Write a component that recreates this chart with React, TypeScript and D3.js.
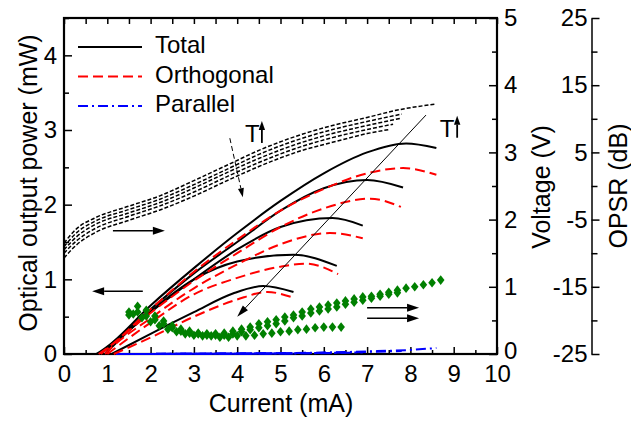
import React, { useEffect, useRef } from "react";
import * as d3 from "d3";

// axis ticks
const currentTicks = [0, 1, 2, 3, 4, 5, 6, 7, 8, 9, 10];
const powerTicks = [0, 1, 2, 3, 4];
const voltageTicks = [0, 1, 2, 3, 4, 5];
const opsrTicks = [-25, -15, -5, 5, 15, 25];

// L-I curves, one per temperature (mA, mW)
const totalI = [
  [0.75, 1, 2, 3, 4, 5, 6, 7, 7.9, 8.6],
  [0.8, 1, 2, 3, 4, 5, 6, 7, 7.83],
  [0.85, 1, 2, 3, 4, 5, 6.2, 6.9],
  [0.95, 1, 2, 3, 4, 5.3, 6.3],
  [1.1, 2, 3, 3.9, 4.6, 5.3],
];
const totalP = [
  [0, 0.1, 0.65, 1.15, 1.62, 2.05, 2.42, 2.7, 2.82, 2.76],
  [0, 0.09, 0.6, 1.08, 1.5, 1.92, 2.22, 2.33, 2.23],
  [0, 0.07, 0.56, 1.0, 1.4, 1.7, 1.82, 1.72],
  [0, 0.03, 0.57, 1.0, 1.24, 1.33, 1.18],
  [0, 0.27, 0.56, 0.81, 0.91, 0.83],
];

const orthoI = [
  [0.8, 1, 2, 3, 4, 5, 6, 7, 7.83, 8.6],
  [0.85, 1, 2, 3, 4, 5, 6, 7.07, 7.78],
  [0.95, 1, 2, 3, 4, 5, 6.14, 6.9],
  [1.0, 2, 3, 4, 5, 5.6, 6.33],
  [1.15, 2, 3, 4, 4.7, 5.27],
];
const orthoP = [
  [0, 0.08, 0.6, 1.1, 1.53, 1.92, 2.21, 2.42, 2.49, 2.4],
  [0, 0.07, 0.55, 0.98, 1.35, 1.7, 1.95, 2.08, 1.97],
  [0, 0.03, 0.48, 0.88, 1.2, 1.47, 1.62, 1.55],
  [0, 0.42, 0.8, 1.02, 1.17, 1.21, 1.07],
  [0, 0.22, 0.5, 0.73, 0.83, 0.76],
];

const paraI = [
  [1.2, 3, 5, 6, 7, 8, 8.6],
  [1.2, 3, 5, 6, 7, 7.8],
  [1.3, 3, 5, 6.9],
  [1.3, 3, 5, 6.3],
  [1.4, 3, 5.3],
];
const paraP = [
  [0, 0.004, 0.012, 0.02, 0.035, 0.055, 0.08],
  [0, 0.004, 0.01, 0.016, 0.028, 0.04],
  [0, 0.003, 0.008, 0.02],
  [0, 0.003, 0.007, 0.012],
  [0, 0.002, 0.006],
];

// I-V curves (mA, V)
const voltI = [
  [0, 0.3, 0.7, 1.5, 2.2, 3, 3.8, 4.5, 5.5, 6.2, 7, 7.7, 8.6],
  [0, 0.3, 0.7, 1.5, 2.2, 3, 3.8, 4.5, 5.5, 6.2, 7, 7.8],
  [0, 0.3, 0.7, 1.5, 2.2, 3, 3.8, 4.5, 5.5, 6.2, 7, 7.8],
  [0, 0.3, 0.7, 1.5, 2.2, 3, 3.8, 4.5, 5.5, 6.2, 7, 7.6],
  [0, 0.3, 0.7, 1.5, 2.2, 3, 3.8, 4.5, 5.5, 6.2, 7, 7.5],
];
const voltV = [
  [1.65, 1.87, 2.02, 2.2, 2.35, 2.58, 2.82, 3.03, 3.27, 3.4, 3.52, 3.63, 3.72],
  [1.6, 1.81, 1.97, 2.15, 2.3, 2.52, 2.76, 2.97, 3.21, 3.34, 3.46, 3.57],
  [1.55, 1.75, 1.92, 2.1, 2.25, 2.47, 2.71, 2.91, 3.15, 3.28, 3.4, 3.51],
  [1.5, 1.69, 1.86, 2.05, 2.2, 2.41, 2.65, 2.85, 3.09, 3.22, 3.34, 3.42],
  [1.43, 1.63, 1.8, 1.99, 2.14, 2.35, 2.59, 2.79, 3.03, 3.15, 3.28, 3.34],
];

// OPSR points (mA, dB)
const opsrI = [
  [1.5, 1.7, 1.9, 2.1, 2.3, 2.5, 2.7, 2.9, 3.1, 3.3, 3.5, 3.7, 3.9, 4.1, 4.3, 4.5, 4.7, 4.9, 5.1, 5.3, 5.5, 5.7, 5.9, 6.1, 6.3, 6.5, 6.7, 6.9, 7.1, 7.3, 7.5, 7.7, 7.9, 8.1, 8.3, 8.5, 8.7],
  [1.5, 1.7, 1.9, 2.1, 2.3, 2.5, 2.7, 2.9, 3.1, 3.3, 3.5, 3.7, 3.9, 4.1, 4.3, 4.5, 4.7, 4.9, 5.1, 5.3, 5.5, 5.7, 5.9, 6.1, 6.3, 6.5, 6.7, 6.9, 7.1, 7.3, 7.5, 7.7],
  [1.6, 1.8, 2.0, 2.2, 2.4, 2.6, 2.8, 3.0, 3.2, 3.4, 3.6, 3.8, 4.0, 4.2, 4.4, 4.6, 4.8, 5.0, 5.2, 5.4, 5.6, 5.8, 6.0, 6.2, 6.4],
];
const opsrDb = [
  [-18.75, -17.9, -18.5, -19.35, -20.1, -20.8, -21.3, -21.6, -21.9, -22.0, -22.0, -21.9, -21.6, -21.3, -21.0, -20.5, -20.2, -19.9, -19.5, -19.2, -18.75, -18.3, -18.0, -17.7, -17.4, -17.1, -16.8, -16.5, -16.4, -16.1, -15.8, -15.5, -15.2, -15.0, -14.7, -14.4, -14.0],
  [-19.2, -18.75, -19.35, -19.9, -20.5, -21.1, -21.6, -21.9, -22.0, -22.2, -22.2, -22.2, -22.0, -21.7, -21.4, -21.1, -20.8, -20.5, -20.1, -19.6, -19.35, -18.9, -18.6, -18.3, -18.0, -17.6, -17.3, -17.0, -16.7, -16.4, -16.1, -15.9],
  [-19.05, -19.6, -20.2, -20.8, -21.3, -21.7, -22.0, -22.2, -22.3, -22.3, -22.5, -22.5, -22.3, -22.3, -22.2, -22.0, -21.9, -21.7, -21.6, -21.4, -21.3, -21.1, -21.0, -21.0, -21.0],
];

const legendLabels = ["Total", "Orthogonal", "Parallel"];

const W = 631;
const H = 421;
const FONT = "'Liberation Sans', Arial, sans-serif";

const App = () => {
  const ref = useRef<SVGSVGElement>(null);

  useEffect(() => {
    const svg = d3.select(ref.current);
    svg.selectAll("*").remove();

    const left = 64, right = 497, top = 18, bottom = 354, opsrX = 591.5;

    const x = d3.scaleLinear().domain([0, 10]).range([left, right]);
    const yP = d3.scaleLinear().domain([0, 4.5]).range([bottom, top]);
    const yV = d3.scaleLinear().domain([0, 5]).range([bottom, top]);
    const yO = d3.scaleLinear().domain([-25, 25]).range([bottom, top]);

    const halves = (ticks: number[]) => ticks.slice(0, -1).map((t, i) => (t + ticks[i + 1]) / 2);
    const fmt = (d: any) => String(d);
    const none = () => "";

    const styleAxis = (g: any) => {
      g.attr("font-size", 24).attr("font-family", FONT);
      g.selectAll("line").attr("stroke-width", 1.5);
      g.selectAll("text").attr("fill", "black");
    };

    // bottom
    svg.append("g").attr("transform", `translate(0,${bottom})`)
      .call(d3.axisBottom(x).tickValues(halves(currentTicks)).tickFormat(none).tickSize(-4))
      .call(styleAxis).select(".domain").remove();
    svg.append("g").attr("transform", `translate(0,${bottom})`)
      .call(d3.axisBottom(x).tickValues(currentTicks).tickFormat(fmt).tickSize(-7).tickPadding(11))
      .call(styleAxis).select(".domain").remove();
    // top
    svg.append("g").attr("transform", `translate(0,${top})`)
      .call(d3.axisTop(x).tickValues(d3.merge([currentTicks, halves(currentTicks)])).tickFormat(none).tickSize(-6))
      .call(styleAxis).select(".domain").remove();
    // left power
    svg.append("g").attr("transform", `translate(${left},0)`)
      .call(d3.axisLeft(yP).tickValues(halves([...powerTicks, 5])).tickFormat(none).tickSize(-5))
      .call(styleAxis).select(".domain").remove();
    svg.append("g").attr("transform", `translate(${left},0)`)
      .call(d3.axisLeft(yP).tickValues(powerTicks).tickFormat(fmt).tickSize(-8).tickPadding(7))
      .call(styleAxis).select(".domain").remove();
    // right voltage
    svg.append("g").attr("transform", `translate(${right},0)`)
      .call(d3.axisRight(yV).tickValues(halves(voltageTicks)).tickFormat(none).tickSize(-5))
      .call(styleAxis).select(".domain").remove();
    const vAxis = svg.append("g").attr("transform", `translate(${right},0)`)
      .call(d3.axisRight(yV).tickValues(voltageTicks).tickFormat(fmt).tickSize(-8).tickPadding(7))
      .call(styleAxis);
    vAxis.select(".domain").remove();
    // lift the bottom "0" a little so it clears the "10" below it
    vAxis.selectAll("text").filter((d: any) => d === 0).attr("dy", "0.2em");
    // OPSR
    svg.append("g").attr("transform", `translate(${opsrX},0)`)
      .call(d3.axisLeft(yO).tickValues(halves(opsrTicks)).tickFormat(none).tickSize(-6).tickSizeOuter(0))
      .call(styleAxis).select(".domain").remove();
    svg.append("g").attr("transform", `translate(${opsrX},0)`)
      .call(d3.axisLeft(yO).tickValues(opsrTicks).tickFormat(fmt).tickSize(-8).tickSizeOuter(0).tickPadding(4))
      .call(styleAxis)
      .select(".domain").attr("stroke-width", 1.5);

    // frame
    svg.append("rect")
      .attr("x", left).attr("y", top)
      .attr("width", right - left).attr("height", bottom - top)
      .attr("fill", "none").attr("stroke", "black").attr("stroke-width", 2.2);

    const line = (ys: any) =>
      d3.line<number[]>().x((d) => x(d[0])).y((d) => ys(d[1])).curve(d3.curveMonotoneX);
    const zip = (a: number[], b: number[]) => a.map((v, i) => [v, b[i]]);

    const drawSet = (xs: number[][], vs: number[][], ys: any, color: string, dash: string | null, width: number) => {
      svg.append("g").selectAll("path")
        .data(xs.map((c, i) => zip(c, vs[i])))
        .join("path")
        .attr("d", line(ys))
        .attr("fill", "none")
        .attr("stroke", color)
        .attr("stroke-width", width)
        .attr("stroke-dasharray", dash);
    };

    drawSet(voltI, voltV, yV, "black", "4,2", 1.5);
    drawSet(paraI, paraP, yP, "#0000ff", "10,4,2,4", 2);
    drawSet(totalI, totalP, yP, "black", null, 2);
    drawSet(orthoI, orthoP, yP, "#ff0000", "10,5", 2);

    // OPSR diamonds
    svg.append("g").selectAll("path")
      .data(d3.merge(opsrI.map((c, i) => zip(c, opsrDb[i]))))
      .join("path")
      .attr("d", "M0,-4.8L3.8,0L0,4.8L-3.8,0Z")
      .attr("transform", (d) => `translate(${x(d[0])},${yO(d[1])})`)
      .attr("fill", "#008000");

    // arrows
    const ann = svg.append("g");
    const arrow = (x1: number, y1: number, x2: number, y2: number, w = 1.5, head = 12, half = 4, dash: string | null = null) => {
      const a = Math.atan2(y2 - y1, x2 - x1);
      const bx = x2 - head * Math.cos(a);
      const by = y2 - head * Math.sin(a);
      ann.append("line")
        .attr("x1", x1).attr("y1", y1).attr("x2", bx).attr("y2", by)
        .attr("stroke", "black").attr("stroke-width", w).attr("stroke-dasharray", dash);
      const px = -Math.sin(a) * half;
      const py = Math.cos(a) * half;
      ann.append("path")
        .attr("d", `M${x2},${y2}L${bx + px},${by + py}L${bx - px},${by - py}Z`)
        .attr("fill", "black");
    };

    arrow(x(1.13), yP(1.65), x(2.33), yP(1.65));
    arrow(x(1.82), yP(0.84), x(0.65), yP(0.84));
    arrow(x(7.0), yP(0.62), x(8.2), yP(0.62));
    arrow(x(7.0), yP(0.48), x(8.2), yP(0.48));
    arrow(x(8.36), yP(3.2), x(4.0), yP(0.5), 1, 12, 3.5);
    arrow(x(3.83), yP(2.89), x(4.13), yP(2.1), 1, 9, 3, "5,3");

    // temperature labels
    [[4.18, 2.84, 4.57], [8.68, 2.91, 9.08]].forEach(([tx, ty, ax]) => {
      ann.append("text")
        .attr("x", x(tx)).attr("y", yP(ty))
        .attr("font-size", 24).attr("font-family", FONT)
        .text("T");
      arrow(x(ax), yP(ty) + 1, x(ax), yP(ty) - 21, 1.8, 9, 3.2);
    });

    // legend
    const legend = svg.append("g");
    const styles = [
      { color: "black", dash: null },
      { color: "#ff0000", dash: "10,5" },
      { color: "#0000ff", dash: "10,4,2,4" },
    ];
    legendLabels.forEach((label, i) => {
      const ly = 47 + i * 29.5;
      legend.append("line")
        .attr("x1", 78).attr("x2", 142).attr("y1", ly).attr("y2", ly)
        .attr("stroke", styles[i].color).attr("stroke-width", 2)
        .attr("stroke-dasharray", styles[i].dash);
      legend.append("text")
        .attr("x", 155).attr("y", ly + 6)
        .attr("font-size", 24).attr("font-family", FONT)
        .text(label);
    });

    // axis titles
    const title = (tx: number, ty: number, rot: number, label: string) =>
      svg.append("text")
        .attr("transform", `translate(${tx},${ty}) rotate(${rot})`)
        .attr("text-anchor", "middle")
        .attr("font-size", 25).attr("font-family", FONT)
        .text(label);
    title(281, 412, 0, "Current (mA)");
    title(37, 183, -90, "Optical output power (mW)");
    title(550, 187, -90, "Voltage (V)");
    title(627, 186, -90, "OPSR (dB)");
  }, []);

  return (
    <svg
      ref={ref}
      width={W}
      height={H}
      style={{ position: "absolute", left: 0, top: 0, background: "white" }}
    />
  );
};

export default App;
